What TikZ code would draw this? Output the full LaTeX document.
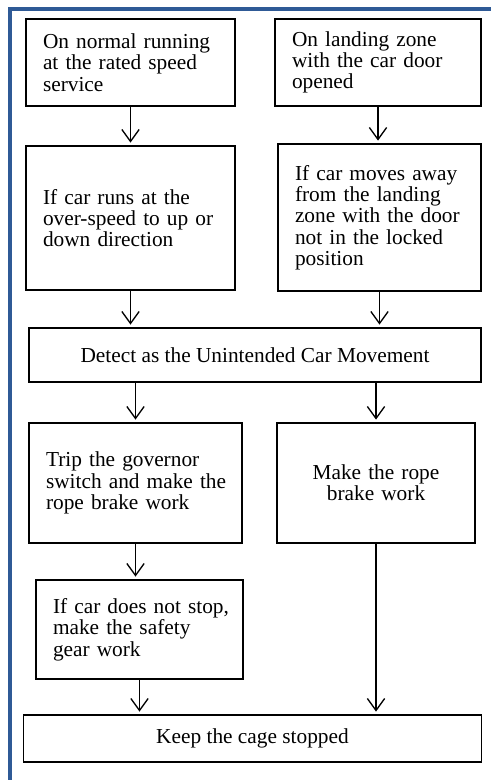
\documentclass[tikz,border=0pt]{standalone}
\usepackage{fontspec}
\setmainfont{Liberation Serif}
\usetikzlibrary{arrows.meta}

\definecolor{framblue}{RGB}{47,90,150}

\begin{document}
\begin{tikzpicture}[x=0.75pt,y=0.75pt,yscale=-1,xscale=1,
    stage/.style={draw, line width=1.1pt, inner xsep=12.75pt, inner ysep=0pt, align=left, font=\fontsize{16pt}{16pt}\selectfont},
    flow/.style={-{Straight Barb[length=9pt,width=13pt]}, line width=1pt, shorten >=2pt}]
    \useasboundingbox (0,0) rectangle (491,780);
    % outer frame
    \draw[framblue, line width=3pt] (491,9.5) -- (9.5,9.5) -- (9.5,780);

    % Text Node
    \node[stage, text width=131.25pt, minimum height=65.25pt] (normal) at (130.5,62.5) {On normal running\\at the rated speed\\service};
    % Text Node
    \node[stage, text width=129pt, minimum height=65.25pt] (landing) at (378,62.5) {On landing zone\\with the car door\\opened};
    % Text Node
    \node[stage, text width=131.25pt, minimum height=108pt] (overspeed) at (130.5,218) {If car runs at the\\\mbox{over-speed to up or}\\down direction};
    % Text Node
    \node[stage, text width=126.75pt, minimum height=110.25pt] (moveaway) at (379.5,217.5) {If car moves away\\from the landing\\\mbox{zone with the door}\\not in the locked\\position};
    % Text Node
    \node[stage, align=center, minimum width=339pt, minimum height=40.5pt] (detect) at (255,355) {Detect as the Unintended Car Movement};
    % Text Node
    \node[stage, text width=134.25pt, minimum height=90pt] (governor) at (135.5,483) {Trip the governor\\\mbox{switch and make the}\\rope brake work};
    % Text Node
    \node[stage, align=center, text width=123pt, minimum height=90pt] (ropebrake) at (376,483) {Make the rope\\brake work};
    % Text Node
    \node[stage, text width=129.75pt, minimum height=74.25pt] (safety) at (139.5,629.5) {\mbox{If car does not stop,}\\make the safety\\gear work};
    % Text Node
    \node[stage, align=center, minimum width=343.5pt, minimum height=35.25pt] (keep) at (252.5,738.5) {Keep the cage stopped};

    %Straight Lines
    \draw[flow] (normal.south) -- (normal.south |- overspeed.north);
    \draw[flow] (landing.south) -- (landing.south |- moveaway.north);
    \draw[flow] (overspeed.south) -- (overspeed.south |- detect.north);
    \draw[flow] (moveaway.south) -- (moveaway.south |- detect.north);
    \draw[flow] (governor.north |- detect.south) -- (governor.north);
    \draw[flow] (ropebrake.north |- detect.south) -- (ropebrake.north);
    \draw[flow] (governor.south) -- (governor.south |- safety.north);
    \draw[flow] (safety.south) -- (safety.south |- keep.north);
    \draw[flow] (ropebrake.south) -- (ropebrake.south |- keep.north);
\end{tikzpicture}
\end{document}
